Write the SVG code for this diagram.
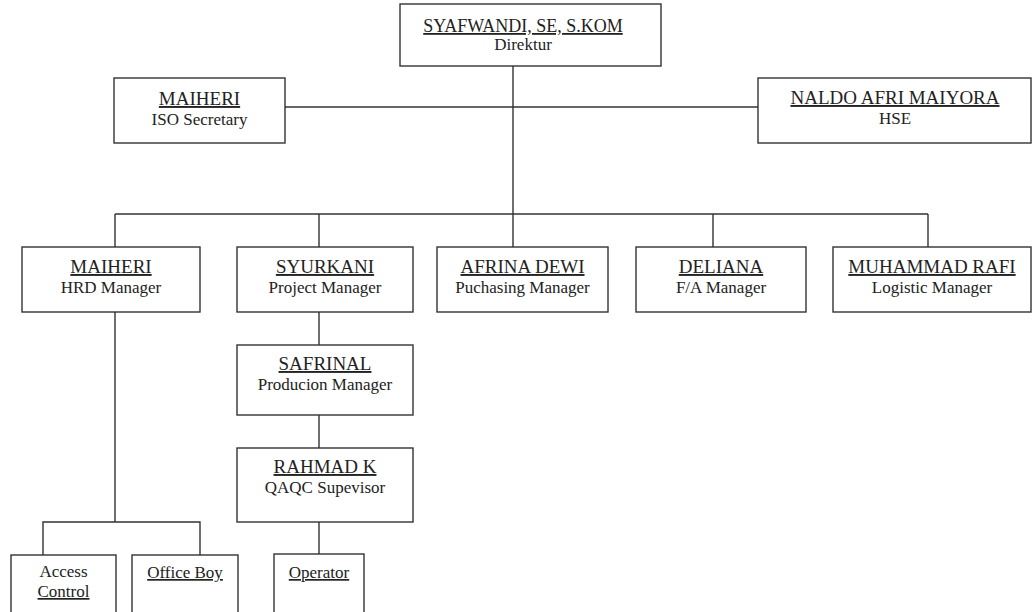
<svg xmlns="http://www.w3.org/2000/svg" width="1033" height="612" viewBox="0 0 1033 612">
<style>
.box{fill:#fff;stroke:#333;stroke-width:1.4}
.con{fill:none;stroke:#333;stroke-width:1.4}
text{font-family:"Liberation Serif","Times New Roman",serif;fill:#222;text-anchor:middle}
.n{font-size:19px;text-decoration:underline}
.r{font-size:17px}
</style>
<rect width="1033" height="612" fill="#fff"/>
<g id="connectors" class="con">
<line x1="513" y1="66" x2="513" y2="247"/>
<line x1="285" y1="107" x2="758" y2="107"/>
<line x1="115" y1="214" x2="928" y2="214"/>
<line x1="115" y1="214" x2="115" y2="247"/>
<line x1="319" y1="214" x2="319" y2="247"/>
<line x1="713" y1="214" x2="713" y2="247"/>
<line x1="928" y1="214" x2="928" y2="247"/>
<line x1="115" y1="312" x2="115" y2="522"/>
<polyline points="43,555 43,522 200,522 200,555"/>
<line x1="319" y1="312" x2="319" y2="345"/>
<line x1="319" y1="415" x2="319" y2="448"/>
<line x1="319" y1="522" x2="319" y2="554"/>
</g>
<g id="direktur">
<rect class="box" x="400" y="4" width="261" height="62"/>
<text class="n" x="523" y="32" style="font-size:18px">SYAFWANDI, SE, S.KOM</text>
<text class="r" x="523" y="50">Direktur</text>
</g>
<g id="iso">
<rect class="box" x="114" y="78" width="171" height="65"/>
<text class="n" x="199.5" y="105">MAIHERI</text>
<text class="r" x="199.5" y="125">ISO Secretary</text>
</g>
<g id="hse">
<rect class="box" x="758" y="78" width="273" height="65"/>
<text class="n" x="895" y="104">NALDO AFRI MAIYORA</text>
<text class="r" x="895" y="124">HSE</text>
</g>
<g id="hrd">
<rect class="box" x="22" y="247" width="178" height="65"/>
<text class="n" x="111" y="273">MAIHERI</text>
<text class="r" x="111" y="293">HRD Manager</text>
</g>
<g id="project">
<rect class="box" x="237" y="247" width="176" height="65"/>
<text class="n" x="325" y="273">SYURKANI</text>
<text class="r" x="325" y="293">Project Manager</text>
</g>
<g id="purchasing">
<rect class="box" x="437" y="247" width="171" height="65"/>
<text class="n" x="522.5" y="273">AFRINA DEWI</text>
<text class="r" x="522.5" y="293">Puchasing Manager</text>
</g>
<g id="fa">
<rect class="box" x="636" y="247" width="170" height="65"/>
<text class="n" x="721" y="273">DELIANA</text>
<text class="r" x="721" y="293">F/A Manager</text>
</g>
<g id="logistic">
<rect class="box" x="833" y="247" width="198" height="65"/>
<text class="n" x="932" y="273">MUHAMMAD RAFI</text>
<text class="r" x="932" y="293">Logistic Manager</text>
</g>
<g id="production">
<rect class="box" x="237" y="345" width="176" height="70"/>
<text class="n" x="325" y="370">SAFRINAL</text>
<text class="r" x="325" y="390">Producion Manager</text>
</g>
<g id="qaqc">
<rect class="box" x="237" y="448" width="176" height="74"/>
<text class="n" x="325" y="473">RAHMAD K</text>
<text class="r" x="325" y="493">QAQC Supevisor</text>
</g>
<g id="access">
<rect class="box" x="11" y="555" width="105" height="70"/>
<text class="r" x="63.5" y="577">Access</text>
<text class="r" x="63.5" y="597" text-decoration="underline">Control</text>
</g>
<g id="officeboy">
<rect class="box" x="132" y="555" width="106" height="70"/>
<text class="r" x="185" y="578" text-decoration="underline">Office Boy</text>
</g>
<g id="operator">
<rect class="box" x="274" y="554" width="90" height="70"/>
<text class="r" x="319" y="578" text-decoration="underline">Operator</text>
</g>
</svg>
